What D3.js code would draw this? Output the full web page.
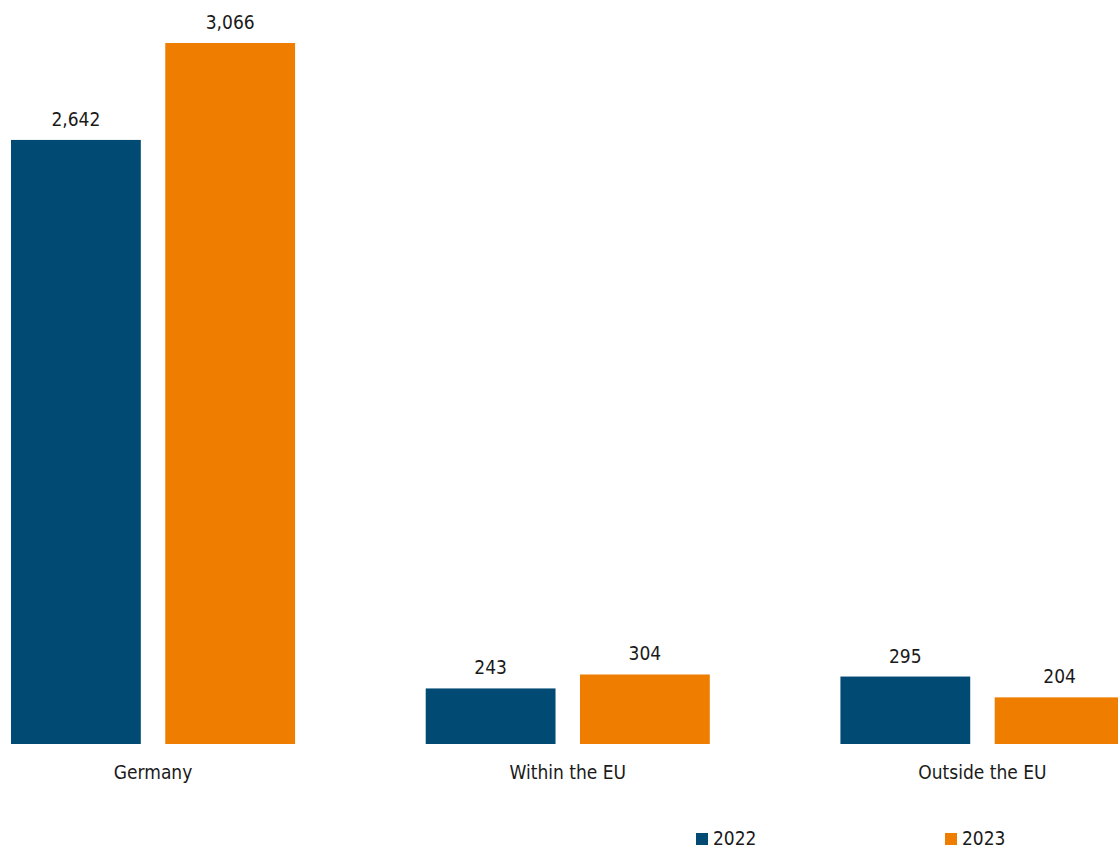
<!DOCTYPE html>
<html>
<head>
<meta charset="utf-8">
<script src="https://cdn.jsdelivr.net/npm/d3@7"></script>
<style>
  html, body { margin: 0; padding: 0; background: #fff; }
  svg { display: block; }
  text { font-family: "DejaVu Sans Condensed", "DejaVu Sans", sans-serif; font-stretch: condensed; fill: #1a1a1a; }
</style>
</head>
<body>
<svg id="chart" width="1118" height="847"></svg>
<script>
const categories = ["Germany", "Within the EU", "Outside the EU"];
const years = ["2022", "2023"];
const values2022 = [2642, 243, 295];
const values2023 = [3066, 304, 204];
const colors = ["#004a73", "#ef7d00"];

const series = [values2022, values2023];
const data = categories.map((c, i) => ({
  category: c,
  values: years.map((y, j) => ({ year: y, value: series[j][i] }))
}));

const svg = d3.select("#chart");
const baseline = 744;

const x0 = d3.scaleBand().domain(categories).range([11, 1124.5]).paddingInner(0.315).paddingOuter(0);
const x1 = d3.scaleBand().domain(years).range([0, x0.bandwidth()]).paddingInner(0.1586).paddingOuter(0);
const y = d3.scaleLinear().domain([0, 3254]).range([baseline, 0]);
const color = d3.scaleOrdinal().domain(years).range(colors);
const fmt = d3.format(",");

const groups = svg.selectAll("g.grp").data(data).enter().append("g")
  .attr("class", "grp")
  .attr("transform", d => `translate(${x0(d.category)},0)`);

groups.selectAll("rect").data(d => d.values).enter().append("rect")
  .attr("x", d => x1(d.year))
  .attr("y", d => y(d.value))
  .attr("width", x1.bandwidth())
  .attr("height", d => baseline - y(d.value))
  .attr("fill", d => color(d.year));

groups.selectAll("text.val").data(d => d.values).enter().append("text")
  .attr("class", "val")
  .attr("x", d => x1(d.year) + x1.bandwidth() / 2)
  .attr("y", d => y(d.value) - 14)
  .attr("text-anchor", "middle")
  .style("font-size", "19px")
  .text(d => fmt(d.value));

// category axis labels
const xAxis = d3.axisBottom(x0).tickSize(0).tickPadding(0);
const axisG = svg.append("g").attr("transform", `translate(0,${baseline})`).call(xAxis);
axisG.select(".domain").remove();
axisG.selectAll("text")
  .attr("dy", null)
  .attr("y", 35)
  .style("font-size", "19px")
  .style("font-family", "'DejaVu Sans Condensed', 'DejaVu Sans', sans-serif")
  .attr("fill", "#1a1a1a");

// legend
const legendX = [696, 945];
const legend = svg.selectAll("g.leg").data(years).enter().append("g")
  .attr("class", "leg")
  .attr("transform", (d, i) => `translate(${legendX[i]},833)`);
legend.append("rect").attr("width", 12).attr("height", 12).attr("fill", d => color(d));
legend.append("text").attr("x", 17).attr("y", 12).style("font-size", "19px").text(d => d);
</script>
</body>
</html>
